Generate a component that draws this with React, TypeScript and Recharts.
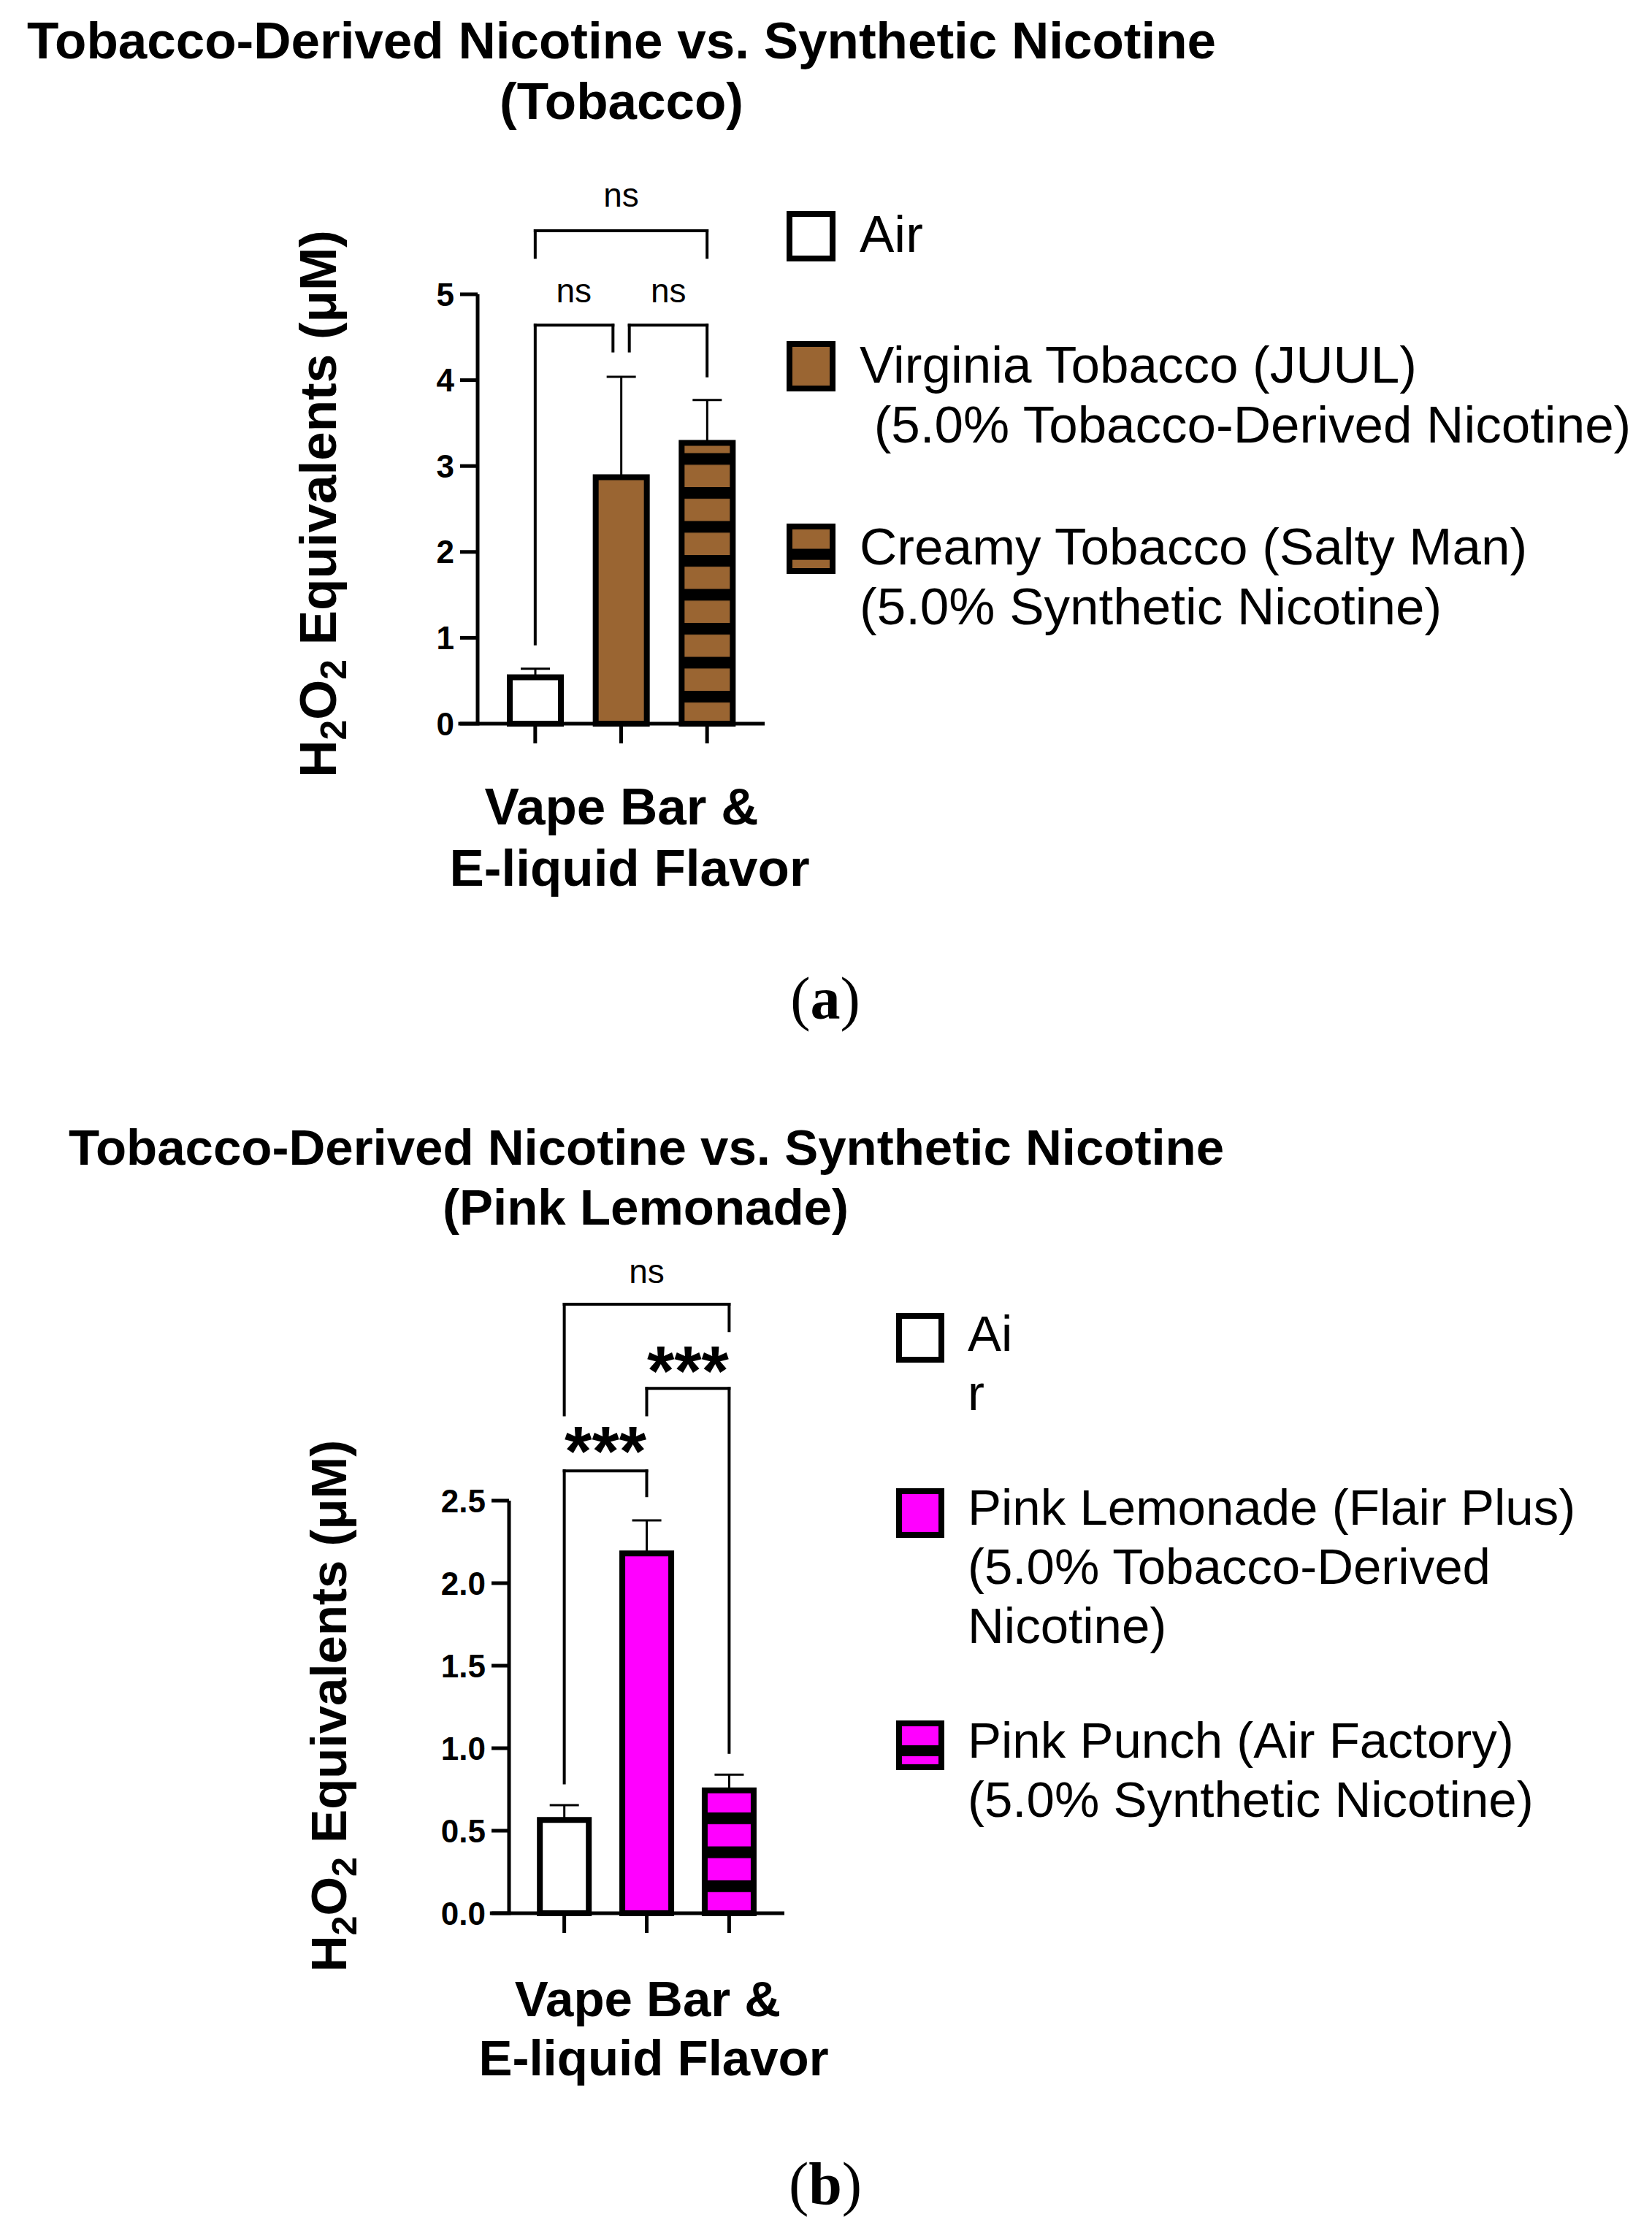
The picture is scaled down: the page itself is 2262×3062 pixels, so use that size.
import React from 'react';
import { ComposedChart, Bar, Cell, ErrorBar, XAxis, YAxis, ReferenceLine, ReferenceDot } from 'recharts';

const FONT = '"Liberation Sans", Arial, Helvetica, sans-serif';
const SERIF = '"Liberation Serif", "Times New Roman", serif';
const BROWN = '#9a6532';
const PINK = '#ff00ff';

// ---- panel (a): tobacco
const tobaccoFlavors = ['Air', 'Virginia Tobacco (JUUL)', 'Creamy Tobacco (Salty Man)'];
const tobaccoMeans = [0.54, 2.87, 3.27];
const tobaccoSd = [0.1, 1.17, 0.5];
const tobaccoTicks = [0, 1, 2, 3, 4, 5];
// [from, to, top, left leg end, right leg end]
const tobaccoBrackets = [
  [0, 2, 5.74, 5.43, 5.43],
  [0, 0.905, 4.64, 0.93, 4.34],
  [1.095, 2, 4.64, 4.34, 4.05],
];
const tobaccoMarks = [
  { x: 1, y: 6.12, text: 'ns' },
  { x: 0.45, y: 5.01, text: 'ns' },
  { x: 1.55, y: 5.01, text: 'ns' },
];
const tobaccoLegend = [
  ['Air'],
  ['Virginia Tobacco (JUUL)', ' (5.0% Tobacco-Derived Nicotine)'],
  ['Creamy Tobacco (Salty Man)', '(5.0% Synthetic Nicotine)'],
];

// ---- panel (b): pink lemonade
const lemonadeFlavors = ['Air', 'Pink Lemonade (Flair Plus)', 'Pink Punch (Air Factory)'];
const lemonadeMeans = [0.565, 2.18, 0.745];
const lemonadeSd = [0.09, 0.2, 0.095];
const lemonadeTicks = [0, 0.5, 1, 1.5, 2, 2.5];
const lemonadeBrackets = [
  [0, 2, 3.69, 3.02, 3.53],
  [0, 1, 2.68, 0.79, 2.53],
  [1, 2, 3.18, 3.02, 0.975],
];
const lemonadeMarks = [
  { x: 1, y: 3.87, text: 'ns' },
  { x: 0.5, y: 2.84, text: '***' },
  { x: 1.5, y: 3.33, text: '***' },
];
const lemonadeLegend = [
  ['Ai', 'r'],
  ['Pink Lemonade (Flair Plus)', '(5.0% Tobacco-Derived', 'Nicotine)'],
  ['Pink Punch (Air Factory)', '(5.0% Synthetic Nicotine)'],
];

const X_DOMAIN: [number, number] = [-0.67, 2.67];

const markShape = (text: string) => (p: any) => {
  const stars = text.includes('*');
  const fs = stars ? 96 : 46;
  return (
    <text
      x={p.cx}
      y={p.cy + (stars ? 0.44 : 0.26) * fs}
      textAnchor="middle"
      fontFamily={FONT}
      fontSize={fs}
      fontWeight={stars ? 700 : 400}
      fill="#000"
    >
      {text}
    </text>
  );
};

function Panel(props: any) {
  const { top, height, margin, names, means, sd, ticks, yMax, fills, brackets, marks, barSize, tickFmt, axisStart } = props;
  const rows = names.map((name: string, i: number) => ({ x: i, name, mean: means[i], err: [0, sd[i]] }));
  const seg = (a: [number, number], b: [number, number], key: string, w = 4) => (
    <ReferenceLine
      key={key}
      segment={[{ x: a[0], y: a[1] }, { x: b[0], y: b[1] }]}
      stroke="#000"
      strokeWidth={w}
      strokeLinecap="square"
      ifOverflow="visible"
    />
  );
  return (
    <div style={{ position: 'absolute', left: 0, top, width: 2262, height }}>
      <ComposedChart width={2262} height={height} data={rows} margin={margin}>
        <XAxis
          type="number"
          dataKey="x"
          domain={X_DOMAIN}
          ticks={[0, 1, 2]}
          tickFormatter={() => ''}
          tickSize={27}
          height={40}
          axisLine={{ stroke: '#000', strokeWidth: 5 }}
          tickLine={{ stroke: '#000', strokeWidth: 5 }}
        />
        <YAxis
          type="number"
          domain={[0, yMax]}
          ticks={ticks}
          width={100}
          tickSize={24}
          tickMargin={8}
          tickFormatter={tickFmt}
          axisLine={{ stroke: '#000', strokeWidth: 5 }}
          tickLine={{ stroke: '#000', strokeWidth: 5 }}
          tick={{ fill: '#000', fontSize: 44, fontWeight: 700, fontFamily: FONT }}
        />
        <Bar dataKey="mean" barSize={barSize} stroke="#000" strokeWidth={8} isAnimationActive={false}>
          {rows.map((r: any, i: number) => (
            <Cell key={r.name} fill={fills[i]} />
          ))}
          <ErrorBar dataKey="err" direction="y" width={20} stroke="#000" strokeWidth={3} isAnimationActive={false} />
        </Bar>
        {seg([axisStart, 0], [X_DOMAIN[0], 0], 'axis-ext', 5)}
        {brackets.flatMap((b: number[], i: number) => [
          seg([b[0], b[3]], [b[0], b[2]], `l${i}`),
          seg([b[0], b[2]], [b[1], b[2]], `t${i}`),
          seg([b[1], b[2]], [b[1], b[4]], `r${i}`),
        ])}
        {marks.map((m: any, i: number) => (
          <ReferenceDot key={`m${i}`} x={m.x} y={m.y} r={0} ifOverflow="visible" shape={markShape(m.text)} />
        ))}
      </ComposedChart>
    </div>
  );
}

function LegendBox({ x, y, w, h, fill, striped }: any) {
  return (
    <g>
      <rect x={x + 4} y={y + 4} width={w - 8} height={h - 8} fill={fill} />
      {striped && <rect x={x} y={y + h * 0.5} width={w} height={h * 0.22} fill="#000" />}
      <rect x={x + 4} y={y + 4} width={w - 8} height={h - 8} fill="none" stroke="#000" strokeWidth={8} />
    </g>
  );
}

function Legend({ items, boxX, boxW, textX, boxTops, baselines, lineH, fs, fills }: any) {
  return (
    <g>
      {items.map((lines: string[], i: number) => (
        <g key={i}>
          <LegendBox x={boxX} y={boxTops[i]} w={boxW} h={boxW + 2} fill={fills[i]} striped={i === 2} />
          {lines.map((t, j) => (
            <text
              key={j}
              x={textX}
              y={baselines[i] + j * lineH}
              fontFamily={FONT}
              fontSize={fs}
              fill="#000"
              style={{ whiteSpace: 'pre' }}
            >
              {t}
            </text>
          ))}
        </g>
      ))}
    </g>
  );
}

function YLabel({ x, y, fs }: any) {
  return (
    <text
      transform={`translate(${x},${y}) rotate(-90)`}
      textAnchor="middle"
      fontFamily={FONT}
      fontSize={fs}
      fontWeight={700}
      fill="#000"
    >
      H<tspan dy={fs * 0.2} fontSize={fs * 0.7}>2</tspan>
      <tspan dy={-fs * 0.2}>O</tspan>
      <tspan dy={fs * 0.2} fontSize={fs * 0.7}>2</tspan>
      <tspan dy={-fs * 0.2}> Equivalents (μM)</tspan>
    </text>
  );
}

function Bold({ x, y, fs, children }: any) {
  return (
    <text x={x} y={y} textAnchor="middle" fontFamily={FONT} fontSize={fs} fontWeight={700} fill="#000">
      {children}
    </text>
  );
}

function PanelTag({ x, y, letter }: any) {
  return (
    <text x={x} y={y} textAnchor="middle" fontFamily={SERIF} fontSize={82} fill="#000">
      (<tspan fontWeight={700}>{letter}</tspan>)
    </text>
  );
}

export default function App() {
  const brownFills = ['#ffffff', BROWN, 'url(#stripeBrown)'];
  const pinkFills = ['#ffffff', PINK, 'url(#stripePink)'];
  return (
    <div style={{ position: 'absolute', left: 0, top: 0, width: 2262, height: 3062, background: '#fff' }}>
      <Panel
        top={0}
        height={1400}
        margin={{ top: 403, right: 1215, bottom: 369, left: 554 }}
        names={tobaccoFlavors}
        means={tobaccoMeans}
        sd={tobaccoSd}
        ticks={tobaccoTicks}
        yMax={5}
        fills={brownFills}
        brackets={tobaccoBrackets}
        marks={tobaccoMarks}
        barSize={70}
        tickFmt={(v: number) => String(v)}
        axisStart={-0.874}
      />
      <Panel
        top={1500}
        height={1562}
        margin={{ top: 555, right: 1188, bottom: 402, left: 597 }}
        names={lemonadeFlavors}
        means={lemonadeMeans}
        sd={lemonadeSd}
        ticks={lemonadeTicks}
        yMax={2.5}
        fills={pinkFills}
        brackets={lemonadeBrackets}
        marks={lemonadeMarks}
        barSize={67}
        tickFmt={(v: number) => v.toFixed(1)}
        axisStart={-0.88}
      />
      <svg width={2262} height={3062} style={{ position: 'absolute', left: 0, top: 0, pointerEvents: 'none' }}>
        <defs>
          <pattern id="stripeBrown" patternUnits="userSpaceOnUse" x={0} y={946} width={20} height={46.5}>
            <rect width={20} height={46.5} fill={BROWN} />
            <rect width={20} height={16} fill="#000" />
          </pattern>
          <pattern id="stripePink" patternUnits="userSpaceOnUse" x={0} y={1075} width={20} height={46.5}>
            <rect width={20} height={46.5} fill={PINK} />
            <rect width={20} height={16} fill="#000" />
          </pattern>
        </defs>

        <Bold x={851} y={80} fs={71}>Tobacco-Derived Nicotine vs. Synthetic Nicotine</Bold>
        <Bold x={851} y={163} fs={71}>(Tobacco)</Bold>
        <YLabel x={460} y={690} fs={71} />
        <Bold x={851} y={1129} fs={71}>Vape Bar &amp;</Bold>
        <Bold x={862} y={1213} fs={71}>E-liquid Flavor</Bold>
        <Legend
          items={tobaccoLegend}
          boxX={1077}
          boxW={67}
          textX={1177}
          boxTops={[289, 467, 717]}
          baselines={[345, 524, 773]}
          lineH={82}
          fs={71}
          fills={['#ffffff', BROWN, BROWN]}
        />
        <PanelTag x={1130} y={1395} letter="a" />

        <Bold x={885} y={1595} fs={69}>Tobacco-Derived Nicotine vs. Synthetic Nicotine</Bold>
        <Bold x={884} y={1677} fs={69}>(Pink Lemonade)</Bold>
        <YLabel x={474} y={2336} fs={69} />
        <Bold x={887} y={2761} fs={69}>Vape Bar &amp;</Bold>
        <Bold x={895} y={2842} fs={69}>E-liquid Flavor</Bold>
        <Legend
          items={lemonadeLegend}
          boxX={1227}
          boxW={66}
          textX={1325}
          boxTops={[1798, 2038, 2356]}
          baselines={[1850, 2088, 2407]}
          lineH={81}
          fs={69}
          fills={['#ffffff', PINK, PINK]}
        />
        <PanelTag x={1130} y={3018} letter="b" />
      </svg>
    </div>
  );
}
